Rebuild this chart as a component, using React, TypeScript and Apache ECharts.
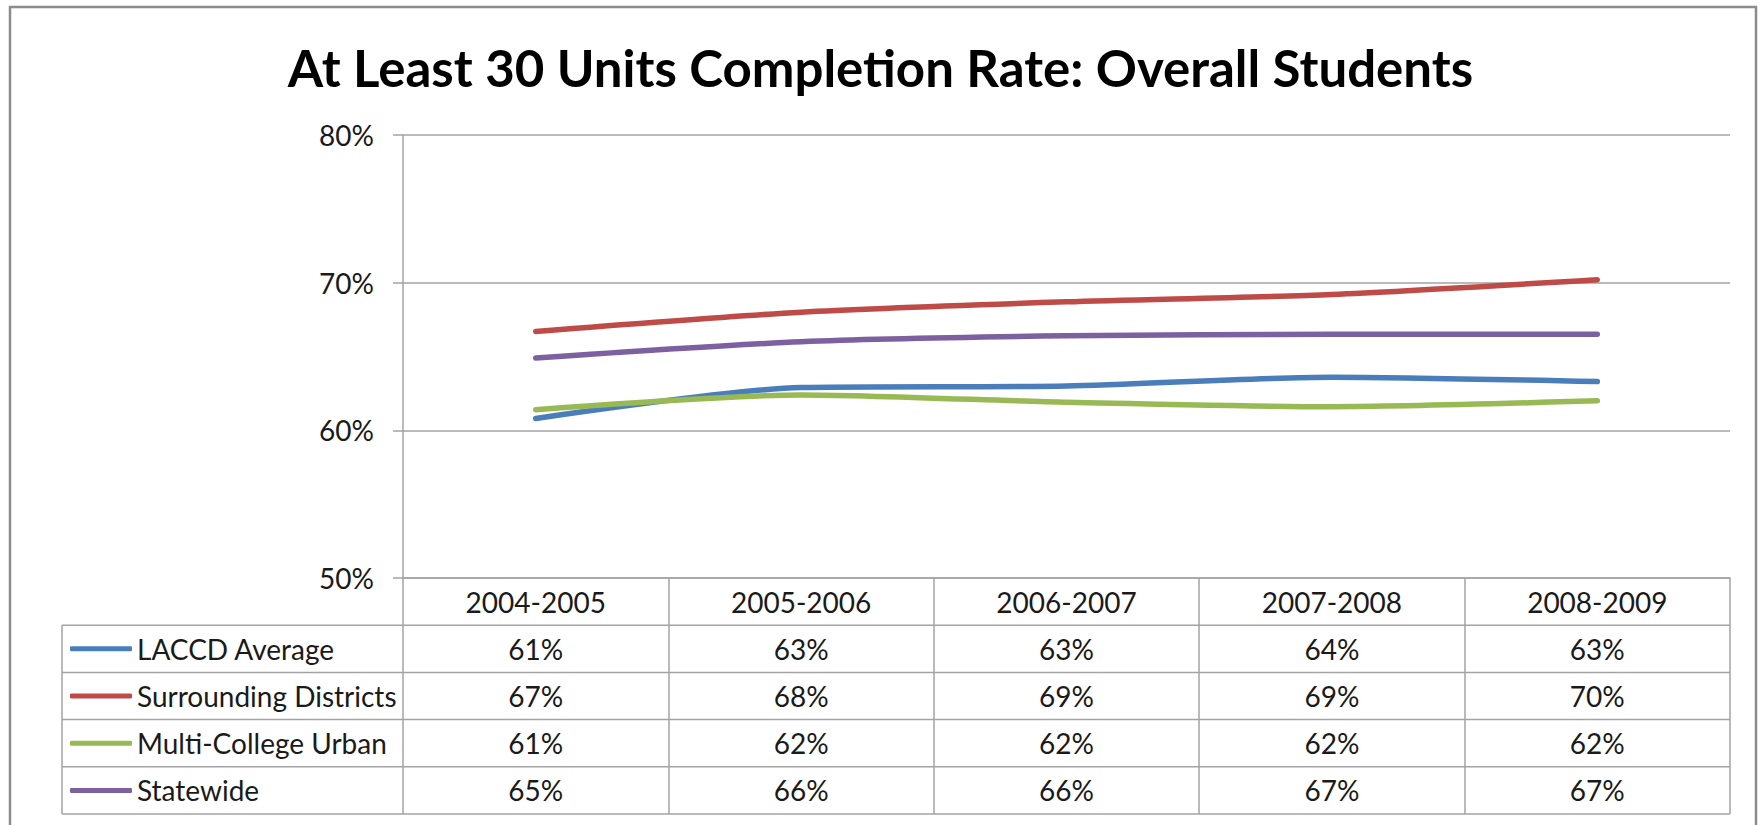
import React, { useEffect, useRef } from 'react';
import * as echarts from 'echarts';

// ---- data ----
const categories = ['2004-2005', '2005-2006', '2006-2007', '2007-2008', '2008-2009'];
const seriesNames = ['LACCD Average', 'Surrounding Districts', 'Multi-College Urban', 'Statewide'];
const laccdAverage = [60.8, 62.9, 63.0, 63.6, 63.3];
const surroundingDistricts = [66.7, 68.0, 68.7, 69.2, 70.2];
const multiCollegeUrban = [61.4, 62.4, 61.9, 61.6, 62.0];
const statewide = [64.9, 66.0, 66.4, 66.5, 66.5];
const yMin = 50;
const yMax = 80;
const yStep = 10;
const titleText = 'At Least 30 Units Completion Rate: Overall Students';

const seriesValues = [laccdAverage, surroundingDistricts, multiCollegeUrban, statewide];
const seriesColors = ['#4A7EBB', '#BE4B48', '#98B954', '#7D60A0'];

// ---- layout ----
const W = 1761;
const H = 825;
const FONT = 'Lato, "Liberation Sans", Arial, sans-serif';
const TEXT = '#1a1a1a';
const GRID = '#a3a3a3';
const plotLeft = 403;
const plotRight = 1730;
const plotTop = 135;
const plotBottom = 578;
const rowH = 47.2;
const tableLeft = 62;
const fs = 28;

const fmtPct = (v: number) => `${Math.round(v)}%`;

export default function App() {
  const ref = useRef<HTMLDivElement>(null);
  useEffect(() => {
    if (!ref.current) return;
    const chart = echarts.init(ref.current, null, { renderer: 'svg' });

    const rowAxes = seriesValues.map((vals, k) => ({
      type: 'category',
      data: categories,
      gridIndex: 0,
      position: 'bottom',
      offset: rowH * (k + 1),
      boundaryGap: true,
      axisLine: { show: false },
      axisTick: { show: false },
      splitLine: { show: false },
      axisLabel: {
        interval: 0,
        margin: rowH / 2,
        verticalAlign: 'middle',
        fontSize: fs,
        fontFamily: FONT,
        color: TEXT,
        formatter: (_: string, i: number) => fmtPct(vals[i]),
      },
    }));

    const graphics: any[] = [
      {
        type: 'rect',
        silent: true,
        shape: { x: 10, y: 7, width: 1746, height: 840 },
        style: { fill: 'none', stroke: '#8c8c8c', lineWidth: 2.5 },
      },
      {
        type: 'line',
        silent: true,
        shape: { x1: tableLeft, y1: plotBottom + rowH, x2: tableLeft, y2: plotBottom + rowH * 5 },
        style: { stroke: GRID, lineWidth: 1.5 },
      },
    ];
    for (let r = 1; r <= 5; r++) {
      const y = plotBottom + rowH * r;
      graphics.push({
        type: 'line',
        silent: true,
        shape: { x1: tableLeft, y1: y, x2: plotRight, y2: y },
        style: { stroke: GRID, lineWidth: 1.5 },
      });
    }

    chart.setOption({
      animation: false,
      backgroundColor: '#ffffff',
      title: {
        text: titleText,
        left: 'center',
        top: 37,
        textStyle: { fontSize: 51, fontWeight: 'bold', color: '#000', fontFamily: FONT },
      },
      legend: {
        data: seriesNames,
        orient: 'vertical',
        left: 70,
        top: plotBottom + rowH,
        padding: 0,
        itemGap: 0,
        itemWidth: 62,
        itemHeight: 5,
        icon: 'roundRect',
        selectedMode: false,
        textStyle: { fontSize: fs, fontFamily: FONT, color: TEXT, lineHeight: rowH },
      },
      grid: {
        left: plotLeft,
        right: W - plotRight,
        top: plotTop,
        bottom: H - plotBottom,
        containLabel: false,
      },
      xAxis: [
        {
          type: 'category',
          data: categories,
          position: 'bottom',
          boundaryGap: true,
          axisLine: { show: true, lineStyle: { color: GRID, width: 1.5 } },
          axisTick: { show: true, alignWithLabel: false, length: rowH * 5, lineStyle: { color: GRID, width: 1.5 } },
          splitLine: { show: false },
          axisLabel: {
            interval: 0,
            margin: rowH / 2,
            verticalAlign: 'middle',
            fontSize: fs,
            fontFamily: FONT,
            color: TEXT,
          },
        },
        ...rowAxes,
      ],
      yAxis: {
        type: 'value',
        min: yMin,
        max: yMax,
        interval: yStep,
        axisLine: { show: true, lineStyle: { color: GRID, width: 1.5 } },
        axisTick: { show: true, length: 10, lineStyle: { color: GRID, width: 1.5 } },
        splitLine: { show: true, lineStyle: { color: GRID, width: 1.5 } },
        axisLabel: {
          formatter: '{value}%',
          margin: 29,
          fontSize: fs,
          fontFamily: FONT,
          color: TEXT,
        },
      },
      series: seriesNames.map((name, i) => ({
        name,
        type: 'line',
        xAxisIndex: 0,
        data: seriesValues[i],
        smooth: 0.25,
        symbol: 'none',
        color: seriesColors[i],
        lineStyle: { width: 5.5, color: seriesColors[i], cap: 'round', join: 'round' },
        z: 3,
      })),
      graphic: graphics,
    });

    return () => chart.dispose();
  }, []);

  return (
    <div
      ref={ref}
      style={{ position: 'absolute', left: 0, top: 0, width: W, height: H, background: '#fff' }}
    />
  );
}
